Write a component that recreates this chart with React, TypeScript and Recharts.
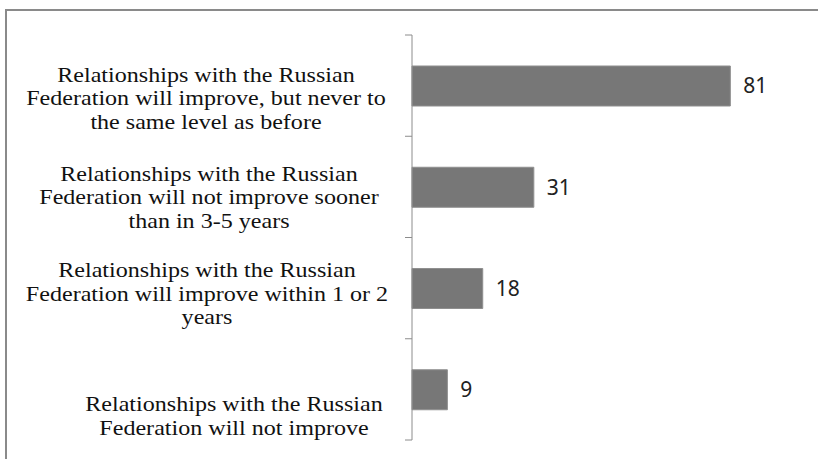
import React from "react";
import { BarChart, Bar, XAxis, YAxis, LabelList } from "recharts";

const categories = [
  "Relationships with the Russian\nFederation will improve, but never to\nthe same level as before",
  "Relationships with the Russian\nFederation will not improve sooner\nthan in 3-5 years",
  "Relationships with the Russian\nFederation will improve within 1 or 2\nyears",
  "Relationships with the Russian\nFederation will not improve",
];
const values = [81, 31, 18, 9];

const data = categories.map((c, i) => ({ name: c, value: values[i] }));

// layout constants for the wrapped category labels
const LINE_H = 23.5;
const FIRST_BASELINE_OFFSET = [-4, -6, -11, 22];
const LABEL_CENTER_X = [206, 209, 207, 234];
const BAND = (440 - 35) / 4;

const CategoryTick = (props: any) => {
  const { x, y, payload, index } = props;
  const lines = String(payload.value).split("\n");
  const start = FIRST_BASELINE_OFFSET[index] ?? 0;
  const cx = LABEL_CENTER_X[index] ?? 206;
  const axisX = x + 8;
  return (
    <g>
      <line x1={axisX - 7} x2={axisX} y1={y - BAND / 2} y2={y - BAND / 2} stroke="#8c8c8c" strokeWidth={1} />
      {index === categories.length - 1 && (
        <line x1={axisX - 7} x2={axisX} y1={y + BAND / 2} y2={y + BAND / 2} stroke="#8c8c8c" strokeWidth={1} />
      )}
      <g transform={`translate(${cx},0) scale(1.12,1)`}>
        <text
          x={0}
          y={y}
          textAnchor="middle"
          fontFamily="'Liberation Serif', 'Times New Roman', serif"
          fontSize={21.5}
          fill="#111"
        >
          {lines.map((l, i) => (
            <tspan key={i} x={0} y={y + start + i * LINE_H}>
              {l}
            </tspan>
          ))}
        </text>
      </g>
    </g>
  );
};

export default function App() {
  return (
    <div style={{ position: "absolute", left: 0, top: 0, width: 818, height: 459, background: "#fff" }}>
      <div
        style={{
          position: "absolute",
          left: 5,
          top: 9,
          width: 813,
          height: 450,
          borderTop: "2px solid #8a8a8a",
          borderLeft: "2px solid #8a8a8a",
          boxSizing: "border-box",
        }}
      />
      <div style={{ position: "absolute", left: 0, top: 0 }}>
        <BarChart
          width={818}
          height={459}
          data={data}
          layout="vertical"
          margin={{ top: 35, right: 13, bottom: 19, left: 0 }}
        >
          <XAxis type="number" domain={[0, 100]} hide />
          <YAxis
            type="category"
            dataKey="name"
            width={412}
            axisLine={{ stroke: "#8c8c8c", strokeWidth: 1 }}
            tickLine={false}
            tick={<CategoryTick />}
            interval={0}
          />
          <Bar dataKey="value" fill="#777777" stroke="#8f8f8f" strokeWidth={1} barSize={40} isAnimationActive={false}>
            <LabelList
              dataKey="value"
              position="right"
              offset={13}
              fill="#222"
              fontSize={21}
              fontFamily="'Noto Sans', 'DejaVu Sans', sans-serif"
            />
          </Bar>
        </BarChart>
      </div>
    </div>
  );
}
